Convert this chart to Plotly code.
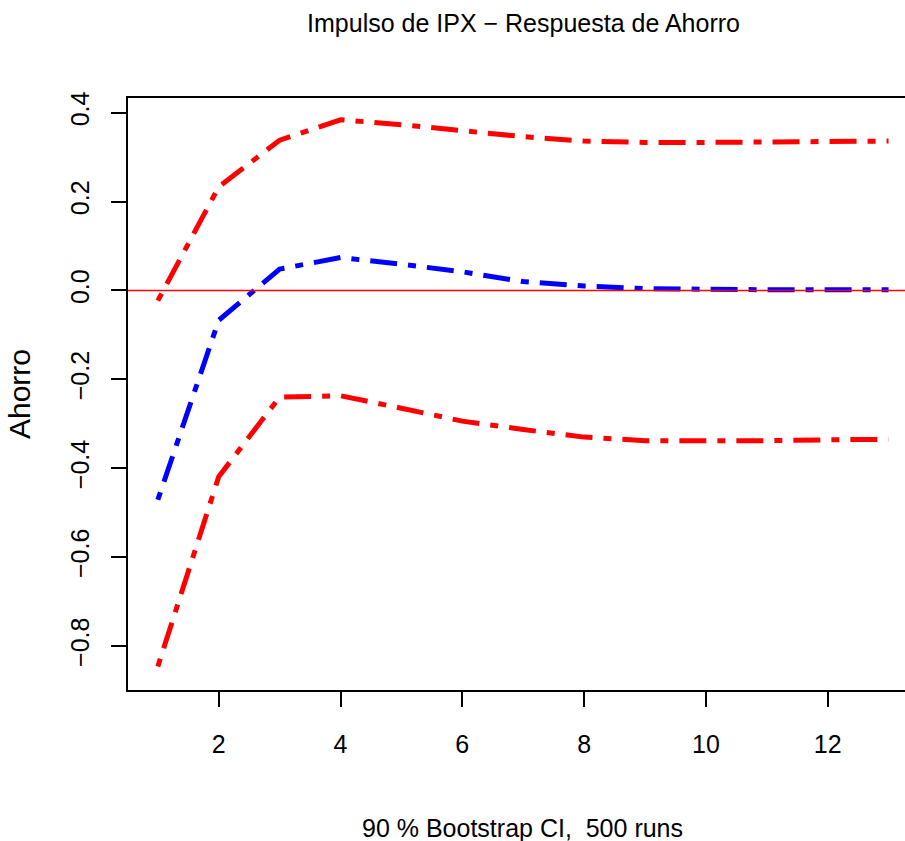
"""IRF plot: impulse IPX -> response Ahorro, with 90% bootstrap band."""
import plotly.graph_objects as go

# ── Data ─────────────────────────────────────────────────────────────
horizon = list(range(1, 14))
irf_ahorro = [-0.471, -0.067, 0.048, 0.074, 0.059, 0.042, 0.020, 0.010,
              0.004, 0.002, 0.0015, 0.0015, 0.0015]
upper_ci = [-0.023, 0.233, 0.338, 0.384, 0.373, 0.360, 0.346, 0.336,
            0.333, 0.333, 0.334, 0.335, 0.336]
lower_ci = [-0.846, -0.419, -0.240, -0.237, -0.265, -0.294, -0.313, -0.330,
            -0.338, -0.339, -0.338, -0.336, -0.335]

y_ticks = [-0.8, -0.6, -0.4, -0.2, 0.0, 0.2, 0.4]
y_ticklabels = ["−0.8", "−0.6", "−0.4", "−0.2", "0.0", "0.2", "0.4"]
x_ticks = [2, 4, 6, 8, 10, 12]

TITLE = "Impulso de IPX − Respuesta de Ahorro"
XLAB = "90 % Bootstrap CI,\u00a0\u00a0500 runs"
YLAB = "Ahorro"

FONT = "Liberation Sans, Arial, Helvetica, sans-serif"
FONT_SIZE = 25
DOTDASH = "8px,11px,27px,11px"

W, H = 905, 841

fig = go.Figure()

fig.add_trace(go.Scatter(
    x=horizon, y=irf_ahorro, mode="lines",
    line=dict(color="#0000FF", width=5, dash=DOTDASH),
    showlegend=False,
))
fig.add_trace(go.Scatter(
    x=horizon, y=upper_ci, mode="lines",
    line=dict(color="#FF0000", width=5, dash=DOTDASH),
    showlegend=False,
))
fig.add_trace(go.Scatter(
    x=horizon, y=lower_ci, mode="lines",
    line=dict(color="#FF0000", width=5, dash=DOTDASH),
    showlegend=False,
))

fig.add_hline(y=0, line_color="#FF0000", line_width=1.5)

fig.add_annotation(
    text=XLAB, xref="paper", yref="paper", x=0.508, y=-0.233,
    xanchor="center", yanchor="middle", showarrow=False,
    font=dict(size=FONT_SIZE, color="black", family=FONT),
)

fig.update_layout(
    width=W, height=H,
    margin=dict(l=128, r=0, t=98, b=151),
    paper_bgcolor="white", plot_bgcolor="white",
    font=dict(family=FONT, size=FONT_SIZE, color="black"),
    title=dict(
        text=TITLE, xref="container", yref="container",
        x=523.5 / W, y=1 - 23 / H, xanchor="center", yanchor="middle",
        font=dict(size=FONT_SIZE, color="black"),
    ),
)
fig.update_xaxes(
    range=[0.51, 13.27], tickvals=x_ticks, ticks="outside", ticklen=15,
    tickwidth=1.5, tickcolor="black", showline=True, linecolor="black",
    linewidth=1.5, mirror=True, showgrid=False, zeroline=False,
    ticklabelstandoff=16,
)
fig.update_yaxes(
    range=[-0.899, 0.433], tickvals=y_ticks, ticktext=y_ticklabels,
    tickangle=-90, ticks="outside", ticklen=15, tickwidth=1.5,
    tickcolor="black", showline=True, linecolor="black", linewidth=1.5,
    mirror=False, showgrid=False, zeroline=False, ticklabelstandoff=12,
    title=dict(text=YLAB, standoff=27),
)

# drop the default body margin so the figure fills the window exactly
fig.write_html(
    "out.html",
    config={"displayModeBar": False},
    post_script="document.body.style.margin='0';"
                "document.body.style.overflow='hidden';",
)
